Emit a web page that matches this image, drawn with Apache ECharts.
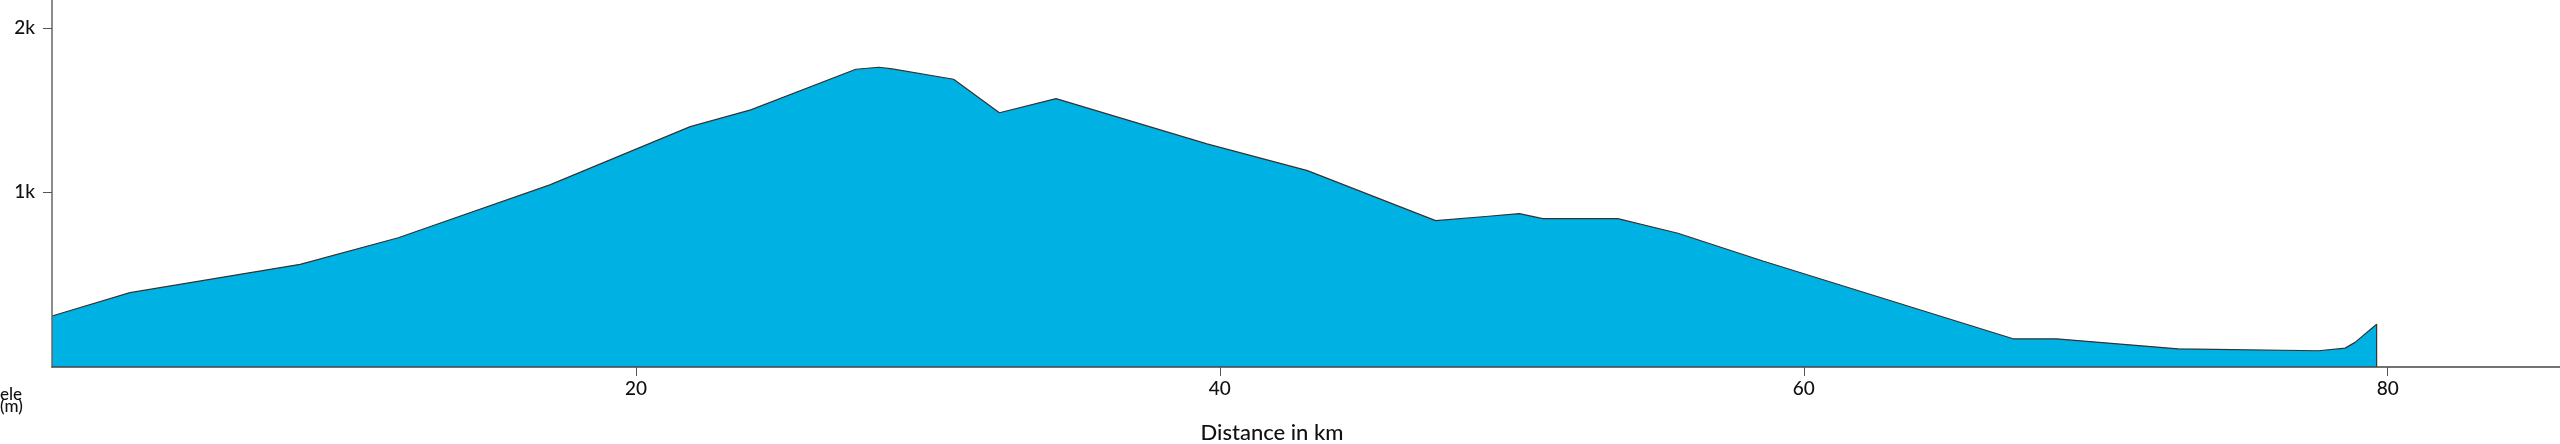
<!DOCTYPE html>
<html>
<head>
<meta charset="utf-8">
<script src="https://cdn.jsdelivr.net/npm/echarts@6/dist/echarts.min.js"></script>
<style>
  html, body { margin: 0; padding: 0; background: #ffffff; }
  #chart { width: 2560px; height: 444px; }
</style>
</head>
<body>
<div id="chart"></div>
<script>
// Distance along route (km)
const distanceKm = [0, 2.67, 8.5, 11.86, 17.05, 21.86, 23.93, 27.53, 28.32, 28.78, 30.88, 32.45, 34.39, 39.56, 43.0, 47.39, 49.2, 50.26, 51.06, 53.63, 55.69, 58.6, 67.17, 68.66, 72.82, 77.63, 78.54, 78.88, 79.62];
// Elevation (m)
const elevationM = [246, 388, 561, 723, 1045, 1400, 1502, 1750, 1762, 1752, 1689, 1485, 1571, 1295, 1132, 827, 854, 870, 839, 839, 750, 581, 107, 107, 46, 34, 50, 85, 196];
// Axis ticks
const xTicks = [20, 40, 60, 80];
const yTicks = [1000, 2000];
const yTickLabels = ['1k', '2k'];

const Y_MIN = -65;
const Y_MAX = 2172;
const X_MAX = 85.9;

const points = distanceKm.map((d, i) => [d, elevationM[i]]);
// close the profile down to the axis baseline at the end of the route
points.push([distanceKm[distanceKm.length - 1], Y_MIN]);

const FONT = 'Lato, "Noto Sans", sans-serif';
const chart = echarts.init(document.getElementById('chart'), null, { renderer: 'canvas' });
chart.setOption({
  animation: false,
  backgroundColor: '#ffffff',
  grid: { left: 52, right: 0, top: 0, bottom: 77, containLabel: false, outerBoundsMode: 'none' },
  xAxis: {
    type: 'value',
    min: 0,
    max: X_MAX,
    z: 10,
    name: 'Distance in km',
    nameLocation: 'middle',
    nameGap: 55,
    nameTextStyle: { fontFamily: FONT, fontSize: 22, fontWeight: 500, color: '#111', padding: [0, 68, 0, 0] },
    axisLine: { show: true, onZero: false, lineStyle: { color: '#444', width: 1.5 } },
    axisTick: { show: true, length: 9, customValues: xTicks, lineStyle: { color: '#555', width: 1 } },
    axisLabel: { customValues: xTicks, margin: 12, fontFamily: FONT, fontSize: 19, fontWeight: 500, color: '#111' },
    splitLine: { show: false }
  },
  yAxis: {
    type: 'value',
    min: Y_MIN,
    max: Y_MAX,
    z: 10,
    axisLine: { show: true, lineStyle: { color: '#666', width: 1.5 } },
    axisTick: { show: true, length: 9, customValues: yTicks, lineStyle: { color: '#555', width: 1 } },
    axisLabel: {
      customValues: yTicks,
      margin: 17,
      fontFamily: FONT, fontSize: 19, fontWeight: 500, color: '#111',
      formatter: v => yTickLabels[yTicks.indexOf(v)] || ''
    },
    splitLine: { show: false }
  },
  graphic: [{
    type: 'text',
    left: 0,
    top: 386,
    style: { text: 'ele\n(m)', font: '500 17px ' + FONT, fill: '#111', lineHeight: 12.5 }
  }],
  series: [{
    type: 'line',
    data: points,
    symbol: 'none',
    smooth: false,
    lineStyle: { color: '#333', width: 1.2 },
    areaStyle: { color: '#00B2E3', opacity: 1, origin: 'start' }
  }]
});
</script>
</body>
</html>
